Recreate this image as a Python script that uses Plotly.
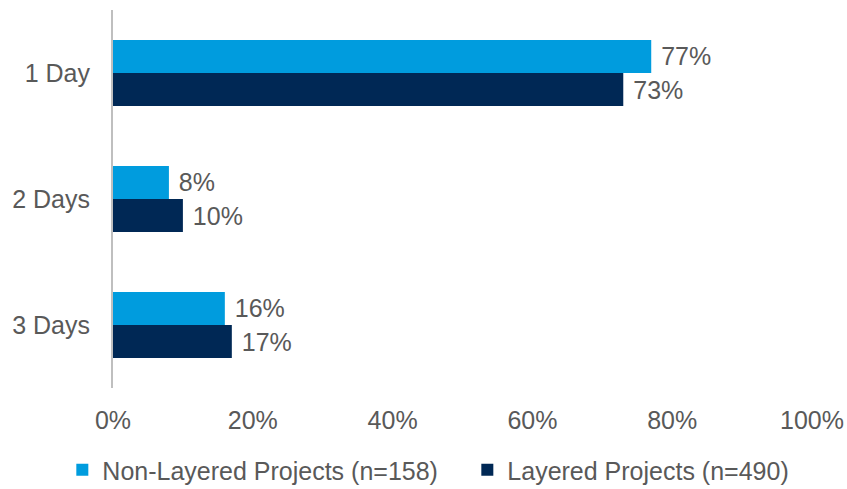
import plotly.graph_objects as go

categories = ["1 Day", "2 Days", "3 Days"]
non_layered = [77, 8, 16]
layered = [73, 10, 17]
series_names = ["Non-Layered Projects (n=158)", "Layered Projects (n=490)"]
tick_vals = [0, 20, 40, 60, 80, 100]
tick_text = ["0%", "20%", "40%", "60%", "80%", "100%"]

colors = ["#009CDE", "#002855"]
text_color = "#595959"
font_family = "Liberation Sans, Arial, sans-serif"
font_size = 25

fig = go.Figure()
for name, vals, col in zip(series_names, [non_layered, layered], colors):
    fig.add_trace(go.Bar(
        y=categories, x=vals, name=name, orientation="h",
        marker=dict(color=col, line=dict(width=0)),
        text=[f" {v}%" for v in vals], textposition="outside",
        textfont=dict(color=text_color, size=font_size, family=font_family),
        cliponaxis=False,
    ))

fig.update_layout(
    width=847, height=489,
    margin=dict(l=113, r=35, t=10, b=101, autoexpand=False),
    barmode="group", bargap=0.476, bargroupgap=0,
    plot_bgcolor="white", paper_bgcolor="white",
    font=dict(family=font_family, color=text_color, size=font_size),
    showlegend=True,
    legend=dict(orientation="h", xref="paper", yref="paper",
                x=-0.0725, xanchor="left", y=-0.217, yanchor="middle",
                font=dict(size=font_size, color=text_color), traceorder="normal",
                itemwidth=30, entrywidth=360, entrywidthmode="pixels"),
)
fig.update_xaxes(range=[0, 100], tickvals=tick_vals, ticktext=tick_text,
                 showgrid=False, zeroline=False, showline=False, automargin=False,
                 tickfont=dict(size=font_size, color=text_color), ticks="",
                 ticklabelstandoff=15)
fig.update_yaxes(autorange="reversed", showgrid=False, showline=True, automargin=False,
                 linecolor="#BFBFBF", linewidth=2, ticks="",
                 tickfont=dict(size=font_size, color=text_color), ticklabelstandoff=16)

fig.write_html("out.html")
